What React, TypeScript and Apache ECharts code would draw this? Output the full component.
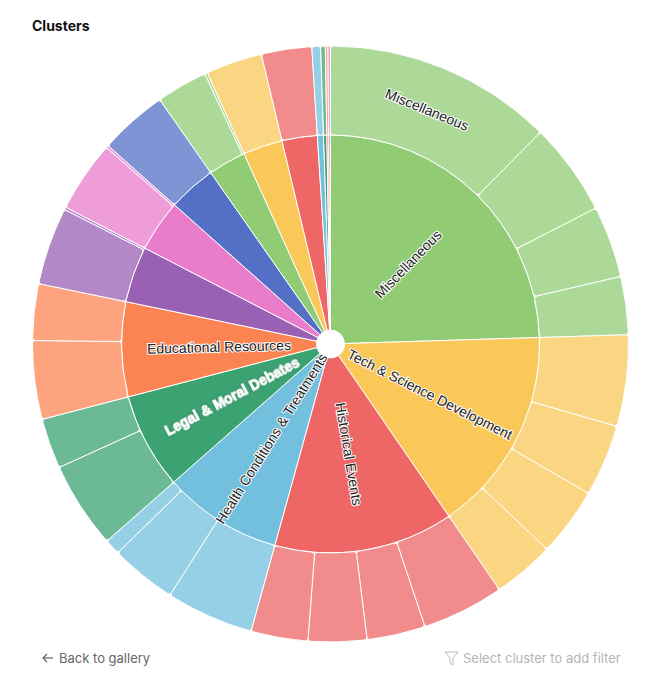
import React, { useEffect, useRef } from "react";
import * as echarts from "echarts";

const clusterNames = [
  "Miscellaneous",
  "Tech & Science Development",
  "Historical Events",
  "Health Conditions & Treatments",
  "Legal & Moral Debates",
  "Educational Resources",
  "", "", "", "", "", "", "", "", "", "",
];

const clusterColors = [
  "#91cc75", "#fac858", "#ee6666", "#73c0de", "#3ba272", "#fc8452",
  "#9a60b4", "#ea7ccc", "#5470c6", "#91cc75", "#fac858", "#ee6666",
  "#73c0de", "#3ba272", "#fc8452", "#ea7ccc",
];

const subclusterValues: number[][] = [
  [447, 181, 140, 113],
  [178, 140, 134, 120],
  [160, 114, 114, 111],
  [171, 129, 31],
  [169, 98],
  [153, 110],
  [151, 5],
  [139, 5],
  [133],
  [100, 5],
  [110],
  [98],
  [17],
  [9],
  [5],
  [5],
];

const subclusterNames: string[][] = [["Miscellaneous"]];

function lighten(hex: string, a = 0.75) {
  const n = parseInt(hex.slice(1), 16);
  const r = (n >> 16) & 255, g = (n >> 8) & 255, b = n & 255;
  const m = (c: number) => Math.round(c * a + 255 * (1 - a));
  return `rgb(${m(r)},${m(g)},${m(b)})`;
}

export default function App() {
  const ref = useRef<HTMLDivElement>(null);
  useEffect(() => {
    if (!ref.current) return;
    const chart = echarts.init(ref.current, undefined, { renderer: "svg" });
    const data = clusterNames.map((name, i) => ({
      name,
      itemStyle: { color: clusterColors[i] },
      label:
        i === 4
          ? {
              color: "#fff",
              textBorderColor: "#fff",
              textBorderWidth: 0.8,
              textShadowColor: "rgba(0,0,0,0.45)",
              textShadowBlur: 2,
              fontWeight: "bold",
            }
          : undefined,
      children: subclusterValues[i].map((v, j) => ({
        name: (subclusterNames[i] && subclusterNames[i][j]) || "",
        value: v,
        itemStyle: { color: lighten(clusterColors[i]) },
      })),
    }));
    const labelBase = {
      fontSize: 14,
      fontFamily: "Liberation Sans, Arial, sans-serif",
      color: "#222",
      textBorderColor: "#fff",
      textBorderWidth: 2,
      minAngle: 20,
    };
    chart.setOption({
      animation: false,
      title: {
        text: "Clusters",
        left: 27,
        top: 13,
        textStyle: {
          fontSize: 14,
          fontWeight: 700,
          fontFamily: "Inter, sans-serif",
          color: "#111",
        },
      },
      series: [
        {
          type: "sunburst",
          center: [330.5, 344],
          radius: [14, 298],
          sort: null,
          nodeClick: false,
          startAngle: 90,
          data,
          itemStyle: { borderColor: "#fff", borderWidth: 1 },
          levels: [
            {},
            {
              r0: 14,
              r: 209,
              itemStyle: { borderColor: "#fff", borderWidth: 1 },
              label: { ...labelBase, rotate: "radial" },
            },
            {
              r0: 209,
              r: 298,
              itemStyle: { borderColor: "#fff", borderWidth: 1, borderRadius: 3 },
              label: { ...labelBase, rotate: "tangential" },
            },
          ],
        },
      ],
      graphic: [
        {
          type: "polyline",
          shape: { points: [[47, 654], [43, 658], [47, 662]] },
          style: { stroke: "#666", lineWidth: 1.2, fill: "none" },
        },
        {
          type: "line",
          shape: { x1: 43, y1: 658, x2: 53, y2: 658 },
          style: { stroke: "#666", lineWidth: 1.2 },
        },
        {
          type: "text",
          x: 59,
          y: 658,
          style: {
            text: "Back to gallery",
            fontSize: 13,
            fontFamily: "Inter, sans-serif",
            fill: "#666",
            verticalAlign: "middle",
          },
        },
        {
          type: "polygon",
          shape: {
            points: [[445, 652], [458, 652], [453, 658], [453, 665], [450, 663], [450, 658]],
          },
          style: { stroke: "#bbb", lineWidth: 1, fill: "none" },
        },
        {
          type: "text",
          x: 463,
          y: 658,
          style: {
            text: "Select cluster to add filter",
            fontSize: 13,
            fontFamily: "Inter, sans-serif",
            fill: "#b5b5b5",
            verticalAlign: "middle",
          },
        },
      ],
    });
    return () => chart.dispose();
  }, []);
  return (
    <div
      ref={ref}
      style={{ position: "absolute", left: 0, top: 0, width: 657, height: 684, background: "#fff" }}
    />
  );
}
